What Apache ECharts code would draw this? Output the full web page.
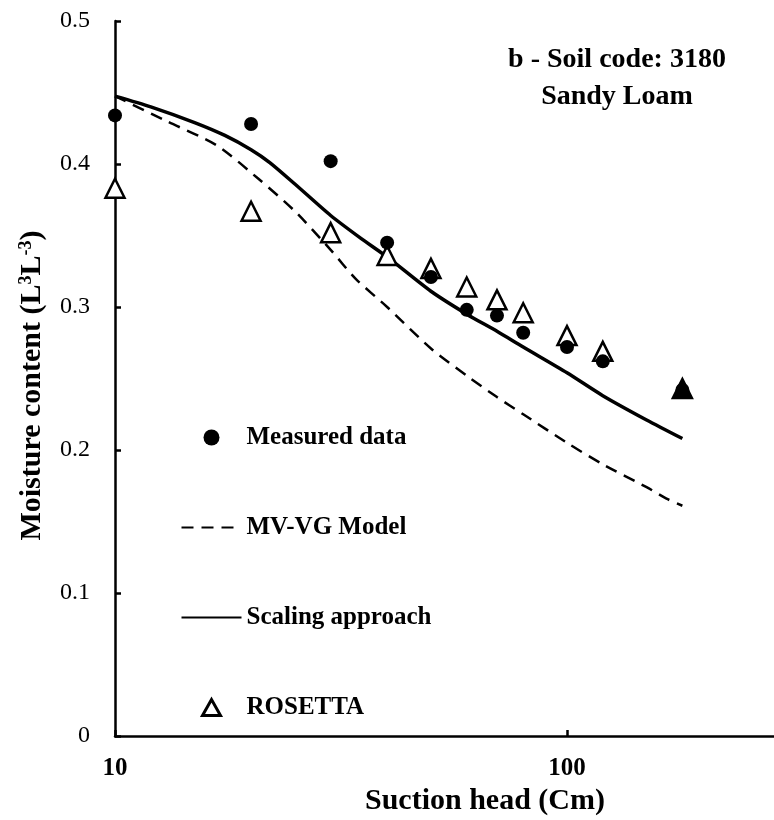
<!DOCTYPE html>
<html>
<head>
<meta charset="utf-8">
<script src="https://cdn.jsdelivr.net/npm/echarts@6/dist/echarts.min.js"></script>
<style>
html,body{margin:0;padding:0;background:#fff;}
#chart{width:774px;height:820px;}
</style>
</head>
<body>
<div id="chart"></div>
<script>
// Measured data
var measuredX = [10, 20, 30, 40, 50, 60, 70, 80, 100, 120, 180];
var measuredY = [0.434, 0.428, 0.402, 0.345, 0.321, 0.298, 0.294, 0.282, 0.272, 0.262, 0.242];
// ROSETTA
var rosettaX = [10, 20, 30, 40, 50, 60, 70, 80, 100, 120, 180];
var rosettaY = [0.383, 0.367, 0.352, 0.336, 0.327, 0.314, 0.305, 0.296, 0.280, 0.269, 0.243];
// MV-VG Model (dashed)
var mvvgX = [10, 13, 16.8, 20.7, 25, 30, 34, 40, 50, 60, 70, 80, 100, 120, 150, 166, 180];
var mvvgY = [0.4475, 0.430, 0.413, 0.390, 0.367, 0.340, 0.320, 0.300, 0.271, 0.252, 0.237, 0.225, 0.205, 0.190, 0.174, 0.166, 0.161];
// Scaling approach (solid)
var scalingX = [10, 12, 15, 17.5, 20, 22, 25, 30, 35, 40, 50, 60, 70, 80, 100, 120, 150, 180];
var scalingY = [0.4475, 0.440, 0.429, 0.420, 0.410, 0.401, 0.386, 0.364, 0.348, 0.335, 0.311, 0.295, 0.283, 0.272, 0.254, 0.238, 0.221, 0.208];
// Axis ticks
var yTicks = [0, 0.1, 0.2, 0.3, 0.4, 0.5];
var xTickLabels = ['10', '100', '1000'];

function pairs(xs, ys) { return xs.map(function (x, i) { return [x, ys[i]]; }); }

var FONT = '"Liberation Serif", "DejaVu Serif", serif';
var chart = echarts.init(document.getElementById('chart'), null, {renderer: 'canvas'});

var rosettaData = pairs(rosettaX, rosettaY).map(function (p, i) {
  return i === rosettaX.length - 1 ? {value: p, itemStyle: {color: '#000'}} : p;
});

// legend triangle icon drawn inside a full-width box so it is not stretched
var TRI_ICON = 'path://M0,0Z M60,16Z M21,16 L30,0 L39,16 Z';

var option = {
  backgroundColor: '#fff',
  animation: false,
  title: {
    text: 'b - Soil code: 3180\nSandy Loam',
    left: 612,
    top: 36,
    textAlign: 'center',
    textStyle: {fontFamily: FONT, fontWeight: 'bold', fontSize: 28, lineHeight: 37, color: '#000'}
  },
  legend: {
    orient: 'vertical',
    left: 175,
    top: 420,
    itemWidth: 60,
    itemHeight: 16,
    itemGap: 65,
    data: [
      {name: 'Measured data'},
      {name: 'MV-VG Model', itemStyle: {opacity: 0}},
      {name: 'Scaling approach', itemStyle: {opacity: 0}},
      {name: 'ROSETTA', icon: TRI_ICON,
       itemStyle: {color: '#fff', borderColor: '#000', borderWidth: 3}}
    ],
    textStyle: {fontFamily: FONT, fontWeight: 'bold', fontSize: 25, color: '#000'}
  },
  grid: {left: 115, top: 21, width: 904, height: 715, containLabel: false, outerBoundsMode: 'none'},
  xAxis: {
    type: 'log',
    logBase: 10,
    min: 10,
    max: 1000,
    name: 'Suction head (Cm)',
    nameLocation: 'middle',
    nameGap: 44,
    nameTextStyle: {fontFamily: FONT, fontWeight: 'bold', fontSize: 30, color: '#000', padding: [0, 164, 0, 0]},
    axisLine: {lineStyle: {color: '#000', width: 2.5}},
    axisTick: {inside: true, length: 6, lineStyle: {color: '#000', width: 2.5}},
    minorTick: {show: false},
    splitLine: {show: false},
    axisLabel: {
      margin: 20,
      fontFamily: FONT, fontWeight: 'bold', fontSize: 25, color: '#000',
      formatter: function (v) {
        var s = String(Math.round(v));
        return xTickLabels.indexOf(s) >= 0 ? s : '';
      }
    }
  },
  yAxis: {
    type: 'value',
    min: yTicks[0],
    max: yTicks[yTicks.length - 1],
    interval: 0.1,
    name: 'Moisture content (L{sup|3}L{sup|-3})',
    nameLocation: 'middle',
    nameGap: 68,
    nameTextStyle: {
      fontFamily: FONT, fontWeight: 'bold', fontSize: 30, color: '#000', padding: [0, 14, 0, 0],
      rich: {sup: {fontFamily: FONT, fontWeight: 'bold', fontSize: 18, verticalAlign: 'top', padding: [0, 0, 11, 0], color: '#000'}}
    },
    axisLine: {show: true, lineStyle: {color: '#000', width: 2.5}},
    axisTick: {show: true, inside: true, length: 6, lineStyle: {color: '#000', width: 2.5}},
    splitLine: {show: false},
    axisLabel: {
      margin: 25,
      fontFamily: FONT, fontSize: 24, color: '#000',
      formatter: function (v) { return String(Math.round(v * 10) / 10); }
    }
  },
  series: [
    {
      name: 'ROSETTA',
      type: 'scatter',
      symbol: 'triangle',
      symbolSize: 19,
      symbolKeepAspect: true,
      z: 3,
      itemStyle: {color: '#fff', borderColor: '#000', borderWidth: 2.5, opacity: 1},
      data: rosettaData
    },
    {
      name: 'MV-VG Model',
      type: 'line',
      symbol: 'none',
      smooth: 0.25,
      z: 2,
      lineStyle: {color: '#000', width: 2.5, type: [12, 8]},
      itemStyle: {color: '#000'},
      data: pairs(mvvgX, mvvgY)
    },
    {
      name: 'Scaling approach',
      type: 'line',
      symbol: 'none',
      smooth: 0.25,
      z: 2,
      lineStyle: {color: '#000', width: 3.5},
      itemStyle: {color: '#000'},
      data: pairs(scalingX, scalingY)
    },
    {
      name: 'Measured data',
      type: 'scatter',
      symbol: 'circle',
      symbolSize: 14,
      symbolKeepAspect: true,
      z: 4,
      itemStyle: {color: '#000', opacity: 1},
      data: pairs(measuredX, measuredY)
    }
  ]
};
chart.setOption(option);
</script>
</body>
</html>
